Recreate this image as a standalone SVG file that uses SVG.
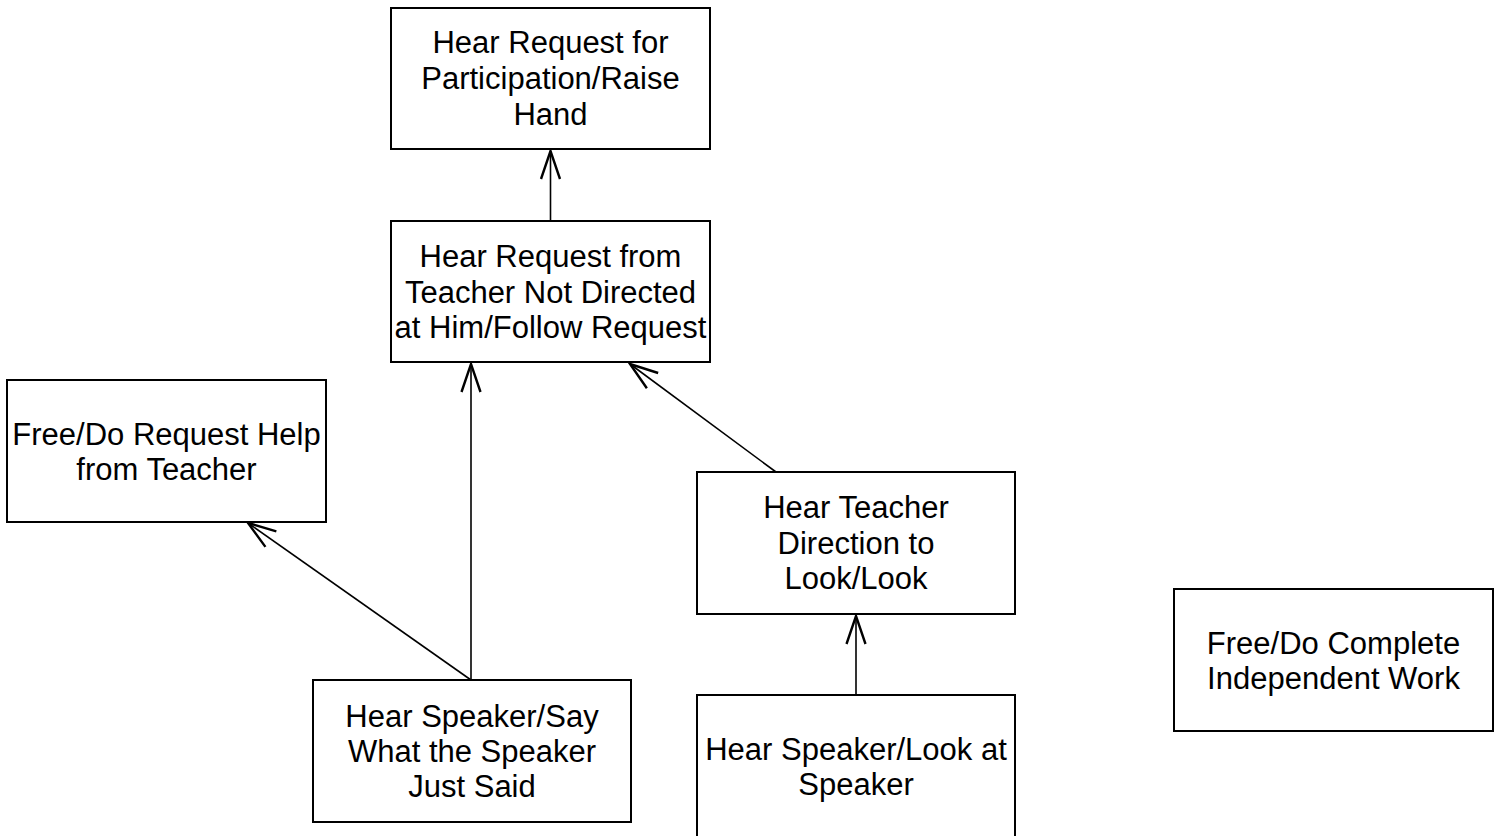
<svg xmlns="http://www.w3.org/2000/svg" width="1501" height="836" viewBox="0 0 1501 836">
  <style>
    .box { fill: #ffffff; stroke: #000000; stroke-width: 2; }
    .label { font-family: "Liberation Sans", Arial, sans-serif; font-size: 31px; fill: #000000; text-anchor: middle; }
    .edge { fill: none; stroke: #000000; stroke-width: 1.6; marker-end: url(#arrow); }
  </style>
  <defs>
    <marker id="arrow" markerUnits="userSpaceOnUse" markerWidth="40" markerHeight="30" viewBox="-32 -15 40 30" refX="0" refY="0" orient="auto">
      <polyline points="-28,-9.5 0,0 -28,9.5" fill="none" stroke="#000000" stroke-width="2.4" stroke-linejoin="miter"/>
    </marker>
  </defs>
  <rect width="1501" height="836" fill="#ffffff"/>

  <g id="connectors">
    <line class="edge" x1="550.5" y1="221" x2="550.5" y2="151"/>
    <line class="edge" x1="471" y1="680" x2="471" y2="364"/>
    <line class="edge" x1="471" y1="680" x2="248" y2="523"/>
    <line class="edge" x1="776" y1="472" x2="630" y2="364"/>
    <line class="edge" x1="856" y1="695" x2="856" y2="616"/>
  </g>

  <g id="raise-hand">
    <rect class="box" x="391" y="8" width="319" height="141"/>
    <text class="label"><tspan x="550.5" y="53">Hear Request for</tspan><tspan x="550.5" y="89">Participation/Raise</tspan><tspan x="550.5" y="125">Hand</tspan></text>
  </g>

  <g id="follow-request">
    <rect class="box" x="391" y="221" width="319" height="141"/>
    <text class="label"><tspan x="550.5" y="267">Hear Request from</tspan><tspan x="550.5" y="303">Teacher Not Directed</tspan><tspan x="550.5" y="338">at Him/Follow Request</tspan></text>
  </g>

  <g id="request-help">
    <rect class="box" x="7" y="380" width="319" height="142"/>
    <text class="label"><tspan x="166.5" y="445">Free/Do Request Help</tspan><tspan x="166.5" y="480">from Teacher</tspan></text>
  </g>

  <g id="say-what-speaker-said">
    <rect class="box" x="313" y="680" width="318" height="142"/>
    <text class="label"><tspan x="472" y="727">Hear Speaker/Say</tspan><tspan x="472" y="762">What the Speaker</tspan><tspan x="472" y="797">Just Said</tspan></text>
  </g>

  <g id="teacher-direction-look">
    <rect class="box" x="697" y="472" width="318" height="142"/>
    <text class="label"><tspan x="856" y="518">Hear Teacher</tspan><tspan x="856" y="554">Direction to</tspan><tspan x="856" y="589">Look/Look</tspan></text>
  </g>

  <g id="look-at-speaker">
    <rect class="box" x="697" y="695" width="318" height="142"/>
    <text class="label"><tspan x="856" y="760">Hear Speaker/Look at</tspan><tspan x="856" y="795">Speaker</tspan></text>
  </g>

  <g id="independent-work">
    <rect class="box" x="1174" y="589" width="319" height="142"/>
    <text class="label"><tspan x="1333.5" y="654">Free/Do Complete</tspan><tspan x="1333.5" y="689">Independent Work</tspan></text>
  </g>
</svg>
